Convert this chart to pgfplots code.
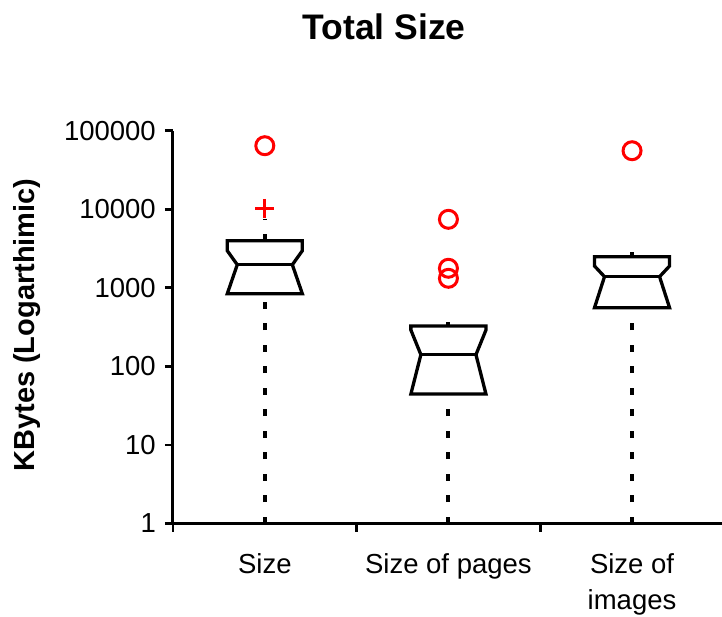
\documentclass[border=0pt]{standalone}
\usepackage{fontspec}
\setmainfont{Liberation Sans}
\usepackage{pgfplots}
\pgfplotsset{compat=1.18}
\begin{document}
\begin{tikzpicture}
\path[use as bounding box] (-173pt,-92.5pt) rectangle (549pt,523.5pt);
\begin{axis}[
  at={(0pt,0pt)}, anchor=south west,
  scale only axis, width=549pt, height=392.8pt,
  xmin=0.5, xmax=3.49, ymode=log, ymin=1, ymax=100000,
  axis lines*=left,
  axis line style={line width=3pt, black},
  xtick={1,2,3},
  xticklabels={Size, Size of pages, {\begin{tabular}[t]{@{}c@{}}Size of\\images\end{tabular}}},
  minor xtick={0.5,1.5,2.5,3.5},
  major x tick style={draw=none},
  minor y tick style={draw=none},
  ytick={1,10,100,1000,10000,100000},
  yticklabels={1,10,100,1000,10000,100000},
  tick align=outside, major tick length=8pt, minor tick length=8pt,
  tick style={black, line width=2.8pt},
  ticklabel style={font=\fontsize{27.5}{36}\selectfont, inner sep=0pt},
  xticklabel style={anchor=base, yshift=-41.5pt},
  yticklabel style={anchor=east, xshift=-9pt},
  clip=false,
]
% whiskers
\addplot[black, line width=4pt, dash pattern=on 7pt off 14.5pt] coordinates {(1,1) (1,841)};
\addplot[black, line width=4pt, dash pattern=on 7pt off 14.5pt] coordinates {(1,3981) (1,7500)};
\addplot[black, line width=4pt, dash pattern=on 7pt off 14.5pt] coordinates {(2,1) (2,44.5)};
\addplot[black, line width=4pt, dash pattern=on 7pt off 14.5pt] coordinates {(2,326) (2,367)};
\addplot[black, line width=4pt, dash pattern=on 7pt off 14.5pt] coordinates {(3,1) (3,558)};
\addplot[black, line width=4pt, dash pattern=on 7pt off 14.5pt] coordinates {(3,2489) (3,2818)};
% boxes
\addplot[black, line width=3.3pt, line join=miter] coordinates {(1,3981) (1.2044,3981) (1.2044,2967) (1.15,1968) (1.2044,841) (0.7956,841) (0.85,1968) (0.7956,2967) (0.7956,3981) (1,3981)};
\addplot[black, line width=3.3pt] coordinates {(0.85,1968) (1.15,1968)};
\addplot[black, line width=3.3pt, line join=miter] coordinates {(2,326) (2.2044,326) (2.2044,290) (2.15,141) (2.2044,44.5) (1.7956,44.5) (1.85,141) (1.7956,290) (1.7956,326) (2,326)};
\addplot[black, line width=3.3pt] coordinates {(1.85,141) (2.15,141)};
\addplot[black, line width=3.3pt, line join=miter] coordinates {(3,2489) (3.2044,2489) (3.2044,1896) (3.15,1386) (3.2044,558) (2.7956,558) (2.85,1386) (2.7956,1896) (2.7956,2489) (3,2489)};
\addplot[black, line width=3.3pt] coordinates {(2.85,1386) (3.15,1386)};
% outliers
\addplot[only marks, mark=o, red, mark size=9pt, line width=3pt] coordinates {(1,64400) (2,7450) (2,1773) (2,1322) (3,55600)};
\addplot[only marks, mark=+, red, mark size=9.5pt, line width=3pt] coordinates {(1,10280)};
\end{axis}
\node[anchor=base, font=\bfseries\fontsize{35.5}{40}\selectfont] at (211pt,484.2pt) {Total Size};
\node[rotate=90, anchor=base, font=\bfseries\fontsize{29}{34}\selectfont] at (-138pt,198.5pt) {KBytes (Logarthimic)};
\end{tikzpicture}
\end{document}
